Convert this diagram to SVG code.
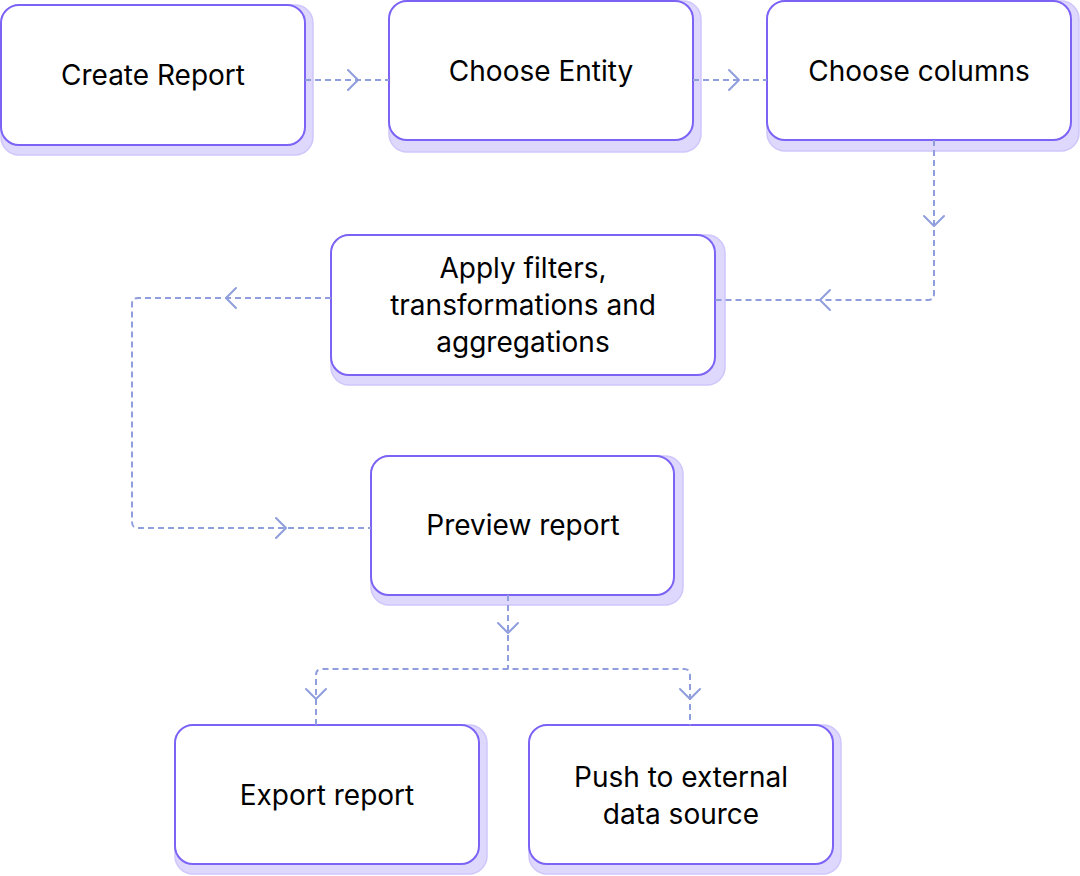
<svg xmlns="http://www.w3.org/2000/svg" width="1080" height="876" viewBox="0 0 1080 876">
<style>
.sh{fill:#DED8FD;stroke:#D0C6FB;stroke-width:1.5}
.bx{fill:#FFFFFF;stroke:#7D63F5;stroke-width:2}
.t{font-family:Inter,"Noto Sans","Liberation Sans",sans-serif;font-size:28px;fill:#000000;text-anchor:middle}
.c{fill:none;stroke:#909EDD;stroke-width:2;stroke-dasharray:6 4}
.a{fill:none;stroke:#909EDD;stroke-width:2;stroke-linecap:round;stroke-linejoin:round}
</style>
<rect width="1080" height="876" fill="#FFFFFF"/>
<g id="create-report">
<rect class="sh" x="1" y="5" width="312" height="150" rx="18"/>
<rect class="bx" x="1" y="5" width="304" height="140" rx="18"/>
<text class="t" x="153" y="85">Create Report</text>
</g>
<g id="choose-entity">
<rect class="sh" x="389" y="1" width="312" height="151" rx="18"/>
<rect class="bx" x="389" y="1" width="304" height="139" rx="18"/>
<text class="t" x="541" y="81">Choose Entity</text>
</g>
<g id="choose-columns">
<rect class="sh" x="767" y="1" width="312" height="150" rx="18"/>
<rect class="bx" x="767" y="1" width="304" height="139" rx="18"/>
<text class="t" x="919" y="81">Choose columns</text>
</g>
<g id="apply-filters">
<rect class="sh" x="331" y="235" width="394" height="150" rx="18"/>
<rect class="bx" x="331" y="235" width="384" height="140" rx="18"/>
<text class="t" x="523" y="278">Apply filters,</text>
<text class="t" x="523" y="315">transformations and</text>
<text class="t" x="523" y="352">aggregations</text>
</g>
<g id="preview-report">
<rect class="sh" x="371" y="456" width="312" height="149" rx="18"/>
<rect class="bx" x="371" y="456" width="303" height="139" rx="18"/>
<text class="t" x="523" y="535">Preview report</text>
</g>
<g id="export-report">
<rect class="sh" x="175" y="725" width="312" height="149" rx="18"/>
<rect class="bx" x="175" y="725" width="304" height="139" rx="18"/>
<text class="t" x="327" y="805">Export report</text>
</g>
<g id="push-external">
<rect class="sh" x="529" y="725" width="312" height="149" rx="18"/>
<rect class="bx" x="529" y="725" width="304" height="139" rx="18"/>
<text class="t" x="681" y="787">Push to external</text>
<text class="t" x="681" y="824">data source</text>
</g>
<g id="connectors">
<path class="c" d="M305 80H389"/>
<path class="a" d="M348 70L358 80L348 90"/>
<path class="c" d="M693 80H767"/>
<path class="a" d="M729 70L739 80L729 90"/>
<path class="c" d="M934 140V294Q934 300 928 300H715"/>
<path class="a" d="M924 216L934 226L944 216"/>
<path class="a" d="M830 290L820 300L830 310"/>
<path class="c" d="M331 298H138Q132 298 132 304V522Q132 528 138 528H371"/>
<path class="a" d="M236 288L226 298L236 308"/>
<path class="a" d="M276 518L286 528L276 538"/>
<path class="c" d="M508 595V669"/>
<path class="a" d="M498 623L508 633L518 623"/>
<path class="c" d="M316 725V675Q316 669 322 669H684Q690 669 690 675V725"/>
<path class="a" d="M306 689L316 699L326 689"/>
<path class="a" d="M680 689L690 699L700 689"/>
</g>
</svg>
